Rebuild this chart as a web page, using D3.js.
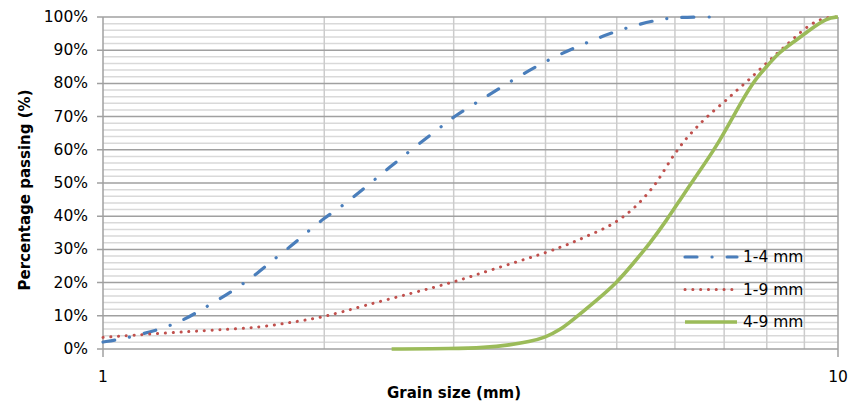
<!DOCTYPE html>
<html>
<head>
<meta charset="utf-8">
<script src="https://cdn.jsdelivr.net/npm/d3@7/dist/d3.min.js"></script>
<style>
  html, body { margin: 0; padding: 0; background: #ffffff; }
  svg { display: block; }
</style>
</head>
<body>
<div id="chart"></div>
<script>
// Grain size distribution, log x axis (mm), cumulative % passing

const W = 860;
const H = 406;
const M = { top: 17, right: 22, bottom: 57, left: 103 };
const FONT = "'DejaVu Sans', 'Open Sans', sans-serif";

// data (grain size in mm, passing in %)
const size_1_4 = [1.00, 1.06, 1.13, 1.21, 1.29, 1.36, 1.44, 1.53, 1.62, 1.70, 1.80, 1.89, 2.00, 2.11,
                  2.34, 2.60, 2.89, 3.00, 3.24, 3.63, 4.08, 4.62, 4.92, 5.24, 5.61, 6.00, 6.90];
const pass_1_4 = [2.1, 3.0, 4.5, 6.3, 8.8, 11.8, 15.0, 18.7, 22.7, 26.6, 30.9, 34.9, 39.5, 42.8,
                  50.9, 59.3, 67.0, 70.0, 74.5, 81.4, 87.8, 92.9, 95.2, 97.2, 98.9, 100, 100];

const size_1_9 = [1.00, 1.21, 1.44, 1.62, 1.80, 2.00, 2.26, 2.64, 3.00, 3.40, 3.97, 4.16, 4.36, 4.54,
                  4.77, 4.98, 5.19, 5.37, 5.54, 5.64, 5.79, 5.94, 6.03, 6.19, 6.41, 6.63, 7.02, 7.28,
                  7.55, 7.83, 8.13, 8.61, 9.16, 9.65, 10.0];
const pass_1_9 = [3.5, 4.8, 5.8, 6.4, 8.0, 9.6, 13.0, 16.9, 20.1, 24.1, 28.7, 30.4, 32.1, 33.9,
                  35.9, 38.1, 41.0, 44.0, 47.5, 49.5, 53.5, 57.5, 59.5, 63.0, 66.6, 70.0, 74.6, 77.9,
                  80.9, 84.3, 87.6, 92.6, 98.0, 100, 100];

const size_4_9 = [2.47, 3.00, 3.30, 3.58, 3.80, 4.00, 4.19, 4.36, 4.65, 5.00, 5.27, 5.55, 5.85, 6.10,
                  6.36, 6.84, 7.28, 7.67, 8.00, 8.30, 8.72, 9.16, 9.65, 10.0];
const pass_4_9 = [0, 0.1, 0.4, 1.2, 2.2, 3.5, 5.8, 8.8, 13.9, 19.9, 25.9, 31.9, 38.9, 45.0,
                  51.0, 61.0, 72.0, 80.6, 85.1, 89.2, 92.6, 96.2, 99.7, 100];

const seriesNames = ['1-4 mm', '1-9 mm', '4-9 mm'];
const xTickValues = [1, 10];
const yMajorTicks = [0, 10, 20, 30, 40, 50, 60, 70, 80, 90, 100];

function zip(xs, ys) {
  return xs.map(function(x, i) { return { d: x, p: ys[i] }; });
}

const series = [
  { name: seriesNames[0], values: zip(size_1_4, pass_1_4), color: '#4a7ebb', width: 3.2,
    dash: '12 15 0.1 15' },
  { name: seriesNames[1], values: zip(size_1_9, pass_1_9), color: '#c0504d', width: 3,
    dash: '0.1 7.7' },
  { name: seriesNames[2], values: zip(size_4_9, pass_4_9), color: '#9bbb59', width: 3.6,
    dash: null }
];

const svg = d3.select('#chart')
  .append('svg')
  .attr('width', W)
  .attr('height', H);

const x = d3.scaleLog()
  .domain([1, 10])
  .range([M.left, W - M.right]);
const y = d3.scaleLinear()
  .domain([0, 100])
  .range([H - M.bottom, M.top]);

// Gridlines
const grid = svg.append('g');

// minor horizontal, every 2 %
grid.selectAll('line.hmin')
  .data(d3.range(0, 101, 2).filter(function(v) { return v % 10 !== 0; }))
  .enter().append('line')
  .attr('x1', M.left).attr('x2', W - M.right)
  .attr('y1', function(d) { return y(d); })
  .attr('y2', function(d) { return y(d); })
  .attr('stroke', '#d9d9d9')
  .attr('stroke-width', 1.5);

// vertical log gridlines 2..9
grid.selectAll('line.v')
  .data(d3.range(2, 10))
  .enter().append('line')
  .attr('x1', function(d) { return x(d); })
  .attr('x2', function(d) { return x(d); })
  .attr('y1', M.top).attr('y2', H - M.bottom)
  .attr('stroke', '#cccccc')
  .attr('stroke-width', 1.5);

// major horizontal, every 10 %, with outside tick on the left
grid.selectAll('line.hmaj')
  .data(yMajorTicks)
  .enter().append('line')
  .attr('x1', M.left - 6).attr('x2', W - M.right)
  .attr('y1', function(d) { return y(d); })
  .attr('y2', function(d) { return y(d); })
  .attr('stroke', '#a0a0a0')
  .attr('stroke-width', 1.5);

// right edge
grid.append('line')
  .attr('x1', W - M.right).attr('x2', W - M.right)
  .attr('y1', M.top).attr('y2', H - M.bottom + 8)
  .attr('stroke', '#a0a0a0')
  .attr('stroke-width', 1.5);

// left axis line
svg.append('line')
  .attr('x1', M.left).attr('x2', M.left)
  .attr('y1', M.top).attr('y2', H - M.bottom + 8)
  .attr('stroke', '#a0a0a0')
  .attr('stroke-width', 1.5);

// Axis labels
svg.append('g').selectAll('text')
  .data(yMajorTicks)
  .enter().append('text')
  .attr('x', M.left - 15)
  .attr('y', function(d) { return y(d); })
  .attr('text-anchor', 'end')
  .attr('dominant-baseline', 'central')
  .attr('font-family', FONT)
  .attr('font-size', 15.5)
  .attr('fill', '#000')
  .text(function(d) { return d + '%'; });

svg.append('g').selectAll('text')
  .data(xTickValues)
  .enter().append('text')
  .attr('x', function(d) { return x(d); })
  .attr('y', H - M.bottom + 28)
  .attr('text-anchor', 'middle')
  .attr('dominant-baseline', 'central')
  .attr('font-family', FONT)
  .attr('font-size', 15.5)
  .attr('fill', '#000')
  .text(function(d) { return d; });

svg.append('text')
  .attr('x', 454)
  .attr('y', 393)
  .attr('text-anchor', 'middle')
  .attr('dominant-baseline', 'central')
  .attr('font-family', FONT)
  .attr('font-size', 15)
  .attr('font-weight', 'bold')
  .text('Grain size (mm)');

svg.append('text')
  .attr('transform', 'translate(25,' + 190 + ') rotate(-90)')
  .attr('text-anchor', 'middle')
  .attr('dominant-baseline', 'central')
  .attr('font-family', FONT)
  .attr('font-size', 15)
  .attr('font-weight', 'bold')
  .text('Percentage passing (%)');

// Series (smoothed, like the spreadsheet's smoothed lines)
const line = d3.line()
  .x(function(d) { return x(d.d); })
  .y(function(d) { return y(d.p); })
  .curve(d3.curveBasis);

svg.append('g').selectAll('path')
  .data(series)
  .enter().append('path')
  .attr('d', function(s) { return line(s.values); })
  .attr('fill', 'none')
  .attr('stroke', function(s) { return s.color; })
  .attr('stroke-width', function(s) { return s.width; })
  .attr('stroke-linecap', function(s) { return s.dash ? 'round' : 'butt'; })
  .attr('stroke-linejoin', 'round')
  .attr('stroke-dasharray', function(s) { return s.dash; });

// Legend
const legend = svg.append('g');
series.forEach(function(s, i) {
  const ly = 257 + i * 32.5;
  legend.append('line')
    .attr('x1', 685).attr('x2', 737)
    .attr('y1', ly).attr('y2', ly)
    .attr('stroke', s.color)
    .attr('stroke-width', s.width)
    .attr('stroke-linecap', s.dash ? 'round' : 'butt')
    .attr('stroke-dasharray', s.dash);
  legend.append('text')
    .attr('x', 743)
    .attr('y', ly)
    .attr('dominant-baseline', 'central')
    .attr('font-family', FONT)
    .attr('font-size', 15.5)
    .attr('fill', '#000')
    .text(s.name);
});
</script>
</body>
</html>
